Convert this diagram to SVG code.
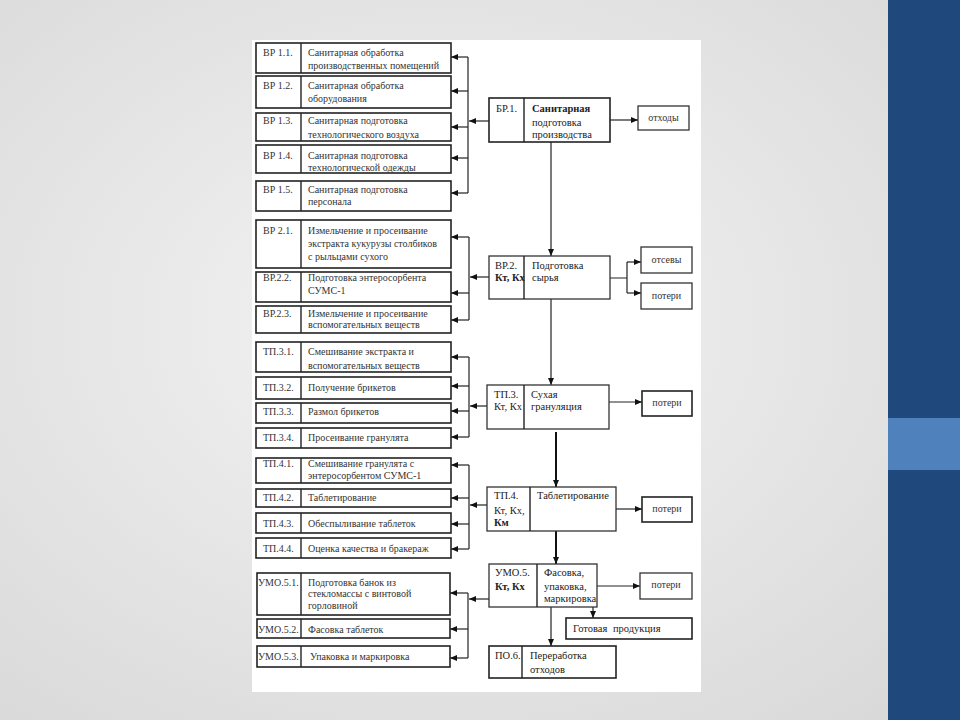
<svg xmlns="http://www.w3.org/2000/svg" width="960" height="720" viewBox="0 0 960 720">
<defs>
<radialGradient id="bg" cx="0.45" cy="0.45" r="0.75">
<stop offset="0" stop-color="#f4f4f4"/>
<stop offset="1" stop-color="#d8d8d8"/>
</radialGradient>
<marker id="ah" markerWidth="7" markerHeight="6" refX="7" refY="3" orient="auto" markerUnits="userSpaceOnUse">
<path d="M0,0 L7,3 L0,6 z" fill="#111"/>
</marker>
<style>
.box{fill:#fff;stroke:#222;stroke-width:1.6}
.mbox{fill:#fff;stroke:#333;stroke-width:1.3}
.div{stroke:#222;stroke-width:1.4}
.t{font-family:"Liberation Serif","Times New Roman",serif;font-size:10px;fill:#333}
.m{font-family:"Liberation Serif","Times New Roman",serif;font-size:10.5px;fill:#222}
.b{font-weight:bold}
.c{stroke:#222;stroke-width:1.2;fill:none}
.ca{stroke:#222;stroke-width:1.2;fill:none;marker-end:url(#ah)}
.ck{stroke:#111;stroke-width:2;fill:none;marker-end:url(#ah)}
</style>
</defs>
<rect x="0" y="0" width="960" height="720" fill="url(#bg)"/>
<rect x="888" y="0" width="72" height="720" fill="#1f497d"/>
<rect x="888" y="418" width="72" height="52" fill="#4f81bd"/>
<rect x="252" y="40" width="449" height="652" fill="#fff"/>

<g id="connectors">
<path class="ca" d="M489,121 H469"/>
<path class="c" d="M468,57 V193"/>
<path class="ca" d="M468,57 H451"/>
<path class="ca" d="M468,91 H451"/>
<path class="ca" d="M468,127 H451"/>
<path class="ca" d="M468,158 H451"/>
<path class="ca" d="M468,193 H451"/>
<path class="ca" d="M489,277 H470"/>
<path class="c" d="M469,237 V320"/>
<path class="ca" d="M469,237 H451"/>
<path class="ca" d="M469,293 H451"/>
<path class="ca" d="M469,320 H451"/>
<path class="ca" d="M487,406 H470"/>
<path class="c" d="M469,357 V437"/>
<path class="ca" d="M469,357 H451"/>
<path class="ca" d="M469,386 H451"/>
<path class="ca" d="M469,411 H451"/>
<path class="ca" d="M469,437 H451"/>
<path class="ca" d="M487,505 H470"/>
<path class="c" d="M469,465 V549"/>
<path class="ca" d="M469,465 H451"/>
<path class="ca" d="M469,498 H451"/>
<path class="ca" d="M469,524 H451"/>
<path class="ca" d="M469,549 H451"/>
<path class="ca" d="M489,599 H469"/>
<path class="c" d="M468,593 V658"/>
<path class="ca" d="M468,593 H450"/>
<path class="ca" d="M468,629 H450"/>
<path class="ca" d="M468,658 H450"/>
<path class="ca" d="M551,142 V256"/>
<path class="ca" d="M551,299 V385"/>
<path class="ck" d="M556,432 V487"/>
<path class="ck" d="M556,531 V564"/>
<path class="ca" d="M551,607 V646"/>
<path class="ca" d="M593,607 V618"/>
<path class="ca" d="M610,120 H638"/>
<path class="c" d="M610,278 H627 M627,262 V293"/>
<path class="ca" d="M627,262 H641"/>
<path class="ca" d="M627,293 H641"/>
<path class="ca" d="M609,402 H642"/>
<path class="ca" d="M616,509 H642"/>
<path class="ca" d="M597,586 H640"/>
</g>

<g id="br11"><rect class="box" x="256" y="43" width="195" height="30"/><line class="div" x1="301" y1="43" x2="301" y2="73"/><text class="t" x="263" y="56">ВР 1.1.</text><text class="t" x="308" y="56">Санитарная обработка</text><text class="t" x="308" y="69">производственных помещений</text></g>
<g id="br12"><rect class="box" x="256" y="76" width="195" height="32"/><line class="div" x1="301" y1="76" x2="301" y2="108"/><text class="t" x="263" y="89">ВР 1.2.</text><text class="t" x="308" y="89">Санитарная обработка</text><text class="t" x="308" y="102">оборудования</text></g>
<g id="br13"><rect class="box" x="256" y="113" width="195" height="28"/><line class="div" x1="301" y1="113" x2="301" y2="141"/><text class="t" x="263" y="124">ВР 1.3.</text><text class="t" x="308" y="124">Санитарная подготовка</text><text class="t" x="308" y="138">технологического воздуха</text></g>
<g id="br14"><rect class="box" x="256" y="145" width="195" height="28"/><line class="div" x1="301" y1="145" x2="301" y2="173"/><text class="t" x="263" y="159">ВР 1.4.</text><text class="t" x="308" y="159">Санитарная подготовка</text><text class="t" x="308" y="171">технологической одежды</text></g>
<g id="br15"><rect class="box" x="256" y="181" width="195" height="30"/><line class="div" x1="301" y1="181" x2="301" y2="211"/><text class="t" x="263" y="193">ВР 1.5.</text><text class="t" x="308" y="193">Санитарная подготовка</text><text class="t" x="308" y="205">персонала</text></g>

<g id="br21"><rect class="box" x="256" y="220" width="195" height="48"/><line class="div" x1="301" y1="220" x2="301" y2="268"/><text class="t" x="263" y="234">ВР 2.1.</text><text class="t" x="308" y="234">Измельчение и просеивание</text><text class="t" x="308" y="247">экстракта кукурузы столбиков</text><text class="t" x="308" y="260">с рыльцами сухого</text></g>
<g id="br22"><rect class="box" x="256" y="272" width="195" height="30"/><line class="div" x1="301" y1="272" x2="301" y2="302"/><text class="t" x="263" y="281">ВР.2.2.</text><text class="t" x="308" y="281">Подготовка энтеросорбента</text><text class="t" x="308" y="294">СУМС-1</text></g>
<g id="br23"><rect class="box" x="256" y="306" width="195" height="27"/><line class="div" x1="301" y1="306" x2="301" y2="333"/><text class="t" x="263" y="317">ВР.2.3.</text><text class="t" x="308" y="317">Измельчение и просеивание</text><text class="t" x="308" y="328">вспомогательных веществ</text></g>

<g id="tp31"><rect class="box" x="256" y="342" width="195" height="30"/><line class="div" x1="301" y1="342" x2="301" y2="372"/><text class="t" x="263" y="355">ТП.3.1.</text><text class="t" x="308" y="355">Смешивание экстракта и</text><text class="t" x="308" y="369">вспомогательных веществ</text></g>
<g id="tp32"><rect class="box" x="256" y="377" width="195" height="22"/><line class="div" x1="301" y1="377" x2="301" y2="399"/><text class="t" x="263" y="391">ТП.3.2.</text><text class="t" x="308" y="391">Получение брикетов</text></g>
<g id="tp33"><rect class="box" x="256" y="403" width="195" height="20"/><line class="div" x1="301" y1="403" x2="301" y2="423"/><text class="t" x="263" y="415">ТП.3.3.</text><text class="t" x="308" y="415">Размол брикетов</text></g>
<g id="tp34"><rect class="box" x="256" y="428" width="195" height="20"/><line class="div" x1="301" y1="428" x2="301" y2="448"/><text class="t" x="263" y="441">ТП.3.4.</text><text class="t" x="308" y="441">Просеивание гранулята</text></g>

<g id="tp41"><rect class="box" x="256" y="458" width="195" height="25"/><line class="div" x1="301" y1="458" x2="301" y2="483"/><text class="t" x="263" y="467">ТП.4.1.</text><text class="t" x="308" y="467">Смешивание гранулята с</text><text class="t" x="308" y="479">энтеросорбентом СУМС-1</text></g>
<g id="tp42"><rect class="box" x="256" y="489" width="195" height="18"/><line class="div" x1="301" y1="489" x2="301" y2="507"/><text class="t" x="263" y="501">ТП.4.2.</text><text class="t" x="308" y="501">Таблетирование</text></g>
<g id="tp43"><rect class="box" x="256" y="513" width="195" height="20"/><line class="div" x1="301" y1="513" x2="301" y2="533"/><text class="t" x="263" y="527">ТП.4.3.</text><text class="t" x="308" y="527">Обеспыливание таблеток</text></g>
<g id="tp44"><rect class="box" x="256" y="538" width="195" height="20"/><line class="div" x1="301" y1="538" x2="301" y2="558"/><text class="t" x="263" y="552">ТП.4.4.</text><text class="t" x="308" y="552">Оценка качества и бракераж</text></g>

<g id="umo51"><rect class="box" x="257" y="573" width="193" height="42"/><line class="div" x1="301" y1="573" x2="301" y2="615"/><text class="t" x="258" y="586">УМО.5.1.</text><text class="t" x="308" y="586">Подготовка банок из</text><text class="t" x="308" y="597">стекломассы с винтовой</text><text class="t" x="308" y="609">горловиной</text></g>
<g id="umo52"><rect class="box" x="257" y="619" width="193" height="19"/><line class="div" x1="301" y1="619" x2="301" y2="638"/><text class="t" x="258" y="633">УМО.5.2.</text><text class="t" x="308" y="633">Фасовка таблеток</text></g>
<g id="umo53"><rect class="box" x="257" y="646" width="193" height="21"/><line class="div" x1="301" y1="646" x2="301" y2="667"/><text class="t" x="258" y="660">УМО.5.3.</text><text class="t" x="310" y="660">Упаковка и маркировка</text></g>

<g id="br1"><rect class="box" x="489" y="98" width="121" height="44"/><line class="div" x1="524" y1="98" x2="524" y2="142"/><text class="m" x="496" y="112">БР.1.</text><text class="m b" x="532" y="112">Санитарная</text><text class="m" x="532" y="126">подготовка</text><text class="m" x="532" y="138">производства</text></g>
<g id="br2"><rect class="mbox" x="489" y="256" width="121" height="43"/><line class="div" x1="524" y1="256" x2="524" y2="299"/><text class="m" x="495" y="269">ВР.2.</text><text class="m b" x="495" y="281">Кт, Кх</text><text class="m" x="532" y="269">Подготовка</text><text class="m" x="532" y="281">сырья</text></g>
<g id="tp3"><rect class="mbox" x="487" y="385" width="122" height="44"/><line class="div" x1="524" y1="385" x2="524" y2="429"/><text class="m" x="494" y="398">ТП.3.</text><text class="m" x="494" y="410">Кт, Кх</text><text class="m" x="531" y="398">Сухая</text><text class="m" x="531" y="410">грануляция</text></g>
<g id="tp4"><rect class="mbox" x="487" y="487" width="129" height="44"/><line class="div" x1="530" y1="487" x2="530" y2="531"/><text class="m" x="494" y="499">ТП.4.</text><text class="m" x="494" y="514">Кт, Кх,</text><text class="m b" x="494" y="526">Км</text><text class="m" x="537" y="499">Таблетирование</text></g>
<g id="umo5"><rect class="mbox" x="489" y="564" width="108" height="43"/><line class="div" x1="537" y1="564" x2="537" y2="607"/><text class="m" x="495" y="576">УМО.5.</text><text class="m b" x="495" y="590">Кт, Кх</text><text class="m" x="544" y="576">Фасовка,</text><text class="m" x="544" y="590">упаковка,</text><text class="m" x="544" y="602">маркировка</text></g>
<g id="po6"><rect class="box" x="489" y="646" width="127" height="32"/><line class="div" x1="522" y1="646" x2="522" y2="678"/><text class="m" x="495" y="659">ПО.6.</text><text class="m" x="530" y="659">Переработка</text><text class="m" x="530" y="673">отходов</text></g>
<g id="gp"><rect class="box" x="566" y="618" width="126" height="21"/><text class="m" x="573" y="632" font-size="11" word-spacing="3">Готовая продукция</text></g>

<g id="out1"><rect class="mbox" x="638" y="106" width="51" height="24"/><text class="t" x="663.5" y="121" text-anchor="middle">отходы</text></g>
<g id="out2a"><rect class="mbox" x="641" y="247" width="51" height="26"/><text class="t" x="666.5" y="263" text-anchor="middle">отсевы</text></g>
<g id="out2b"><rect class="mbox" x="641" y="283" width="51" height="26"/><text class="t" x="666.5" y="299" text-anchor="middle">потери</text></g>
<g id="out3"><rect class="box" x="642" y="391" width="50" height="25"/><text class="t" x="667" y="406" text-anchor="middle">потери</text></g>
<g id="out4"><rect class="box" x="642" y="497" width="50" height="25"/><text class="t" x="667" y="512" text-anchor="middle">потери</text></g>
<g id="out5"><rect class="mbox" x="640" y="573" width="52" height="26"/><text class="t" x="666" y="588" text-anchor="middle">потери</text></g>
</svg>
